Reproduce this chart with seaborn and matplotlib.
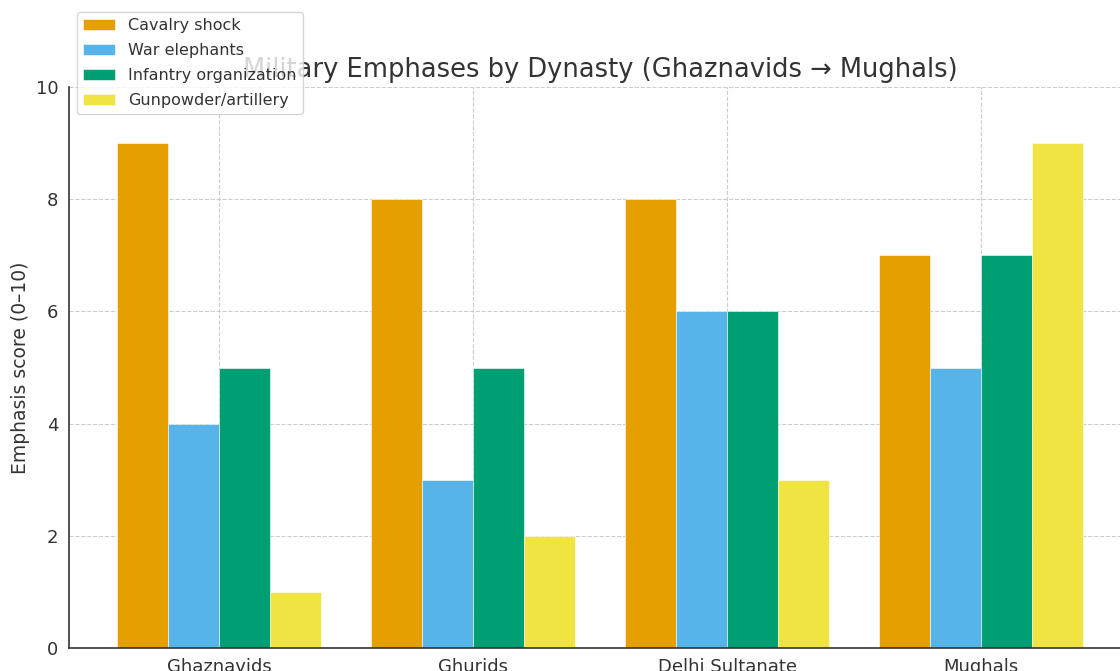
import pandas as pd
import seaborn as sns
import matplotlib.pyplot as plt

dynasties = ['Ghaznavids', 'Ghurids', 'Delhi Sultanate', 'Mughals']
cavalry = [9, 8, 8, 7]
elephants = [4, 3, 6, 5]
infantry = [5, 5, 6, 7]
gunpowder = [1, 2, 3, 9]

series = ['Cavalry shock', 'War elephants', 'Infantry organization', 'Gunpowder/artillery']
colors = ['#E69F00', '#56B4E9', '#009E73', '#F0E442']

rows = []
for name, vals in zip(series, [cavalry, elephants, infantry, gunpowder]):
    for d, v in zip(dynasties, vals):
        rows.append({'dynasty': d, 'aspect': name, 'score': v})
datos = pd.DataFrame(rows)

sns.set_style('white')
plt.rcParams['font.family'] = 'sans-serif'
plt.rcParams['font.sans-serif'] = ['DejaVu Sans']
plt.rcParams['text.color'] = '#333333'
plt.rcParams['axes.labelcolor'] = '#333333'
plt.rcParams['xtick.color'] = '#333333'
plt.rcParams['ytick.color'] = '#333333'

fig = plt.figure(figsize=(11.2, 6.71), dpi=100)
ax = fig.add_axes([69 / 1120, 23 / 671, 1062 / 1120, 561 / 671])

sns.barplot(data=datos, x='dynasty', y='score', hue='aspect',
            palette=colors, width=0.8, edgecolor='white', linewidth=0.4,
            saturation=1, ax=ax)

ax.set_axisbelow(True)
ax.grid(True, linestyle='--', color='#cccccc', linewidth=0.8)
ax.set_xlim(-0.59, 3.59)
ax.set_ylim(0, 10)
ax.set_yticks([0, 2, 4, 6, 8, 10])
ax.tick_params(axis='both', labelsize=13, length=4, color='#333333')
ax.set_xlabel('')
ax.set_ylabel('Emphasis score (0–10)', fontsize=13.5)
ax.set_title('Military Emphases by Dynasty (Ghaznavids → Mughals)', fontsize=18.5, pad=7)

for s in ['top', 'right']:
    ax.spines[s].set_visible(False)
for s in ['left', 'bottom']:
    ax.spines[s].set_color('#333333')
    ax.spines[s].set_linewidth(1.2)

ax.legend(loc='upper left', bbox_to_anchor=(77 / 1120, 1 - 12 / 671),
          bbox_transform=fig.transFigure, borderaxespad=0, fontsize=11.5,
          labelspacing=0.62, title=None, frameon=True)

fig.savefig('out.png', dpi=100)
